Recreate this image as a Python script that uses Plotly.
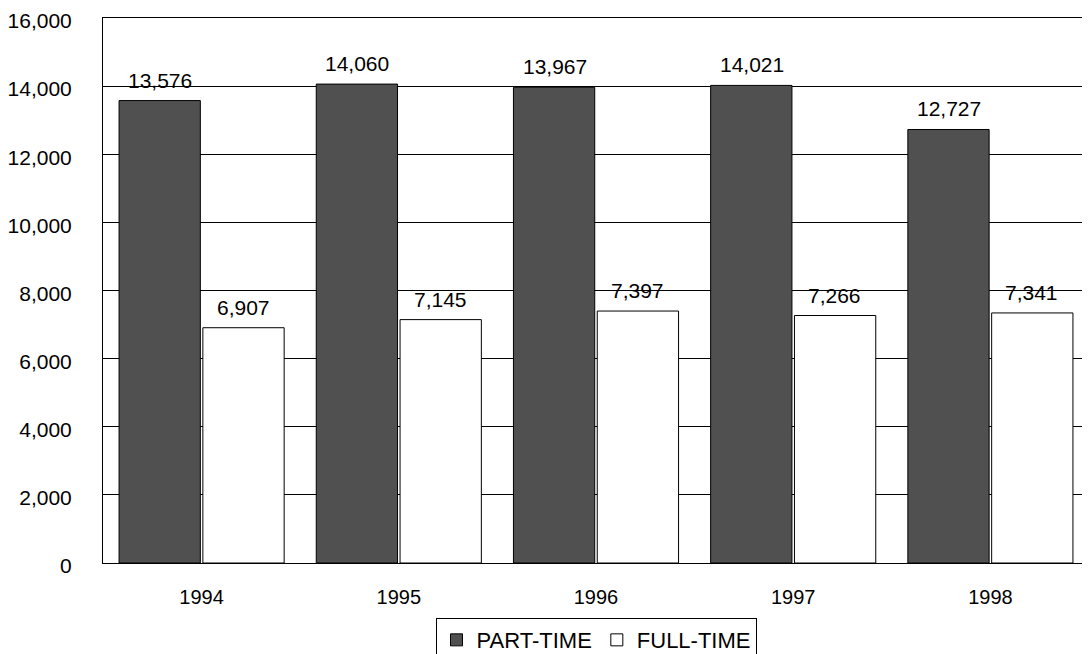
import plotly.graph_objects as go

years = ["1994", "1995", "1996", "1997", "1998"]
part_time = [13576, 14060, 13967, 14021, 12727]
full_time = [6907, 7145, 7397, 7266, 7341]
y_ticks = [0, 2000, 4000, 6000, 8000, 10000, 12000, 14000, 16000]

font = "Liberation Sans"

fig = go.Figure()
fig.add_trace(go.Bar(name="PART-TIME", x=years, y=part_time,
                     marker=dict(color="#505050", line=dict(color="black", width=1))))
fig.add_trace(go.Bar(name="FULL-TIME", x=years, y=full_time,
                     marker=dict(color="white", line=dict(color="black", width=1))))

annotations = []
for i, yr in enumerate(years):
    for off, vals in ((-0.21, part_time), (0.21, full_time)):
        annotations.append(dict(x=i + off, y=vals[i], xref="x", yref="y",
                                text=f"{vals[i]:,}", showarrow=False,
                                yanchor="bottom", yshift=7,
                                font=dict(size=21, color="black", family=font)))

# page body has an 8px margin, so the figure is 8px smaller than the window
fig.update_layout(
    width=1082, height=646,
    margin=dict(l=95, r=1, t=10, b=91, autoexpand=False),
    paper_bgcolor="white", plot_bgcolor="white",
    barmode="group", bargap=0.15, bargroupgap=0.03,
    font=dict(family=font, size=21, color="black"),
    showlegend=True,
    legend=dict(orientation="h", x=0.5, xanchor="center", y=-0.101, yanchor="top",
                bordercolor="black", borderwidth=1, font=dict(size=22),
                itemwidth=30, tracegroupgap=0),
    annotations=annotations,
    xaxis=dict(showline=True, linecolor="black", mirror=True, ticks="",
               automargin=False, ticklabelstandoff=16,
               tickfont=dict(size=20)),
    yaxis=dict(range=[0, 16000], tickvals=y_ticks, tickformat=",d",
               showgrid=True, gridcolor="black", gridwidth=1,
               showline=True, linecolor="black", mirror=True,
               ticks="", ticklabelstandoff=26, ticklabelshift=3, zeroline=False,
               ticklabeloverflow="allow",
               automargin=False, tickfont=dict(size=21)),
)

fig.write_html("out.html")
